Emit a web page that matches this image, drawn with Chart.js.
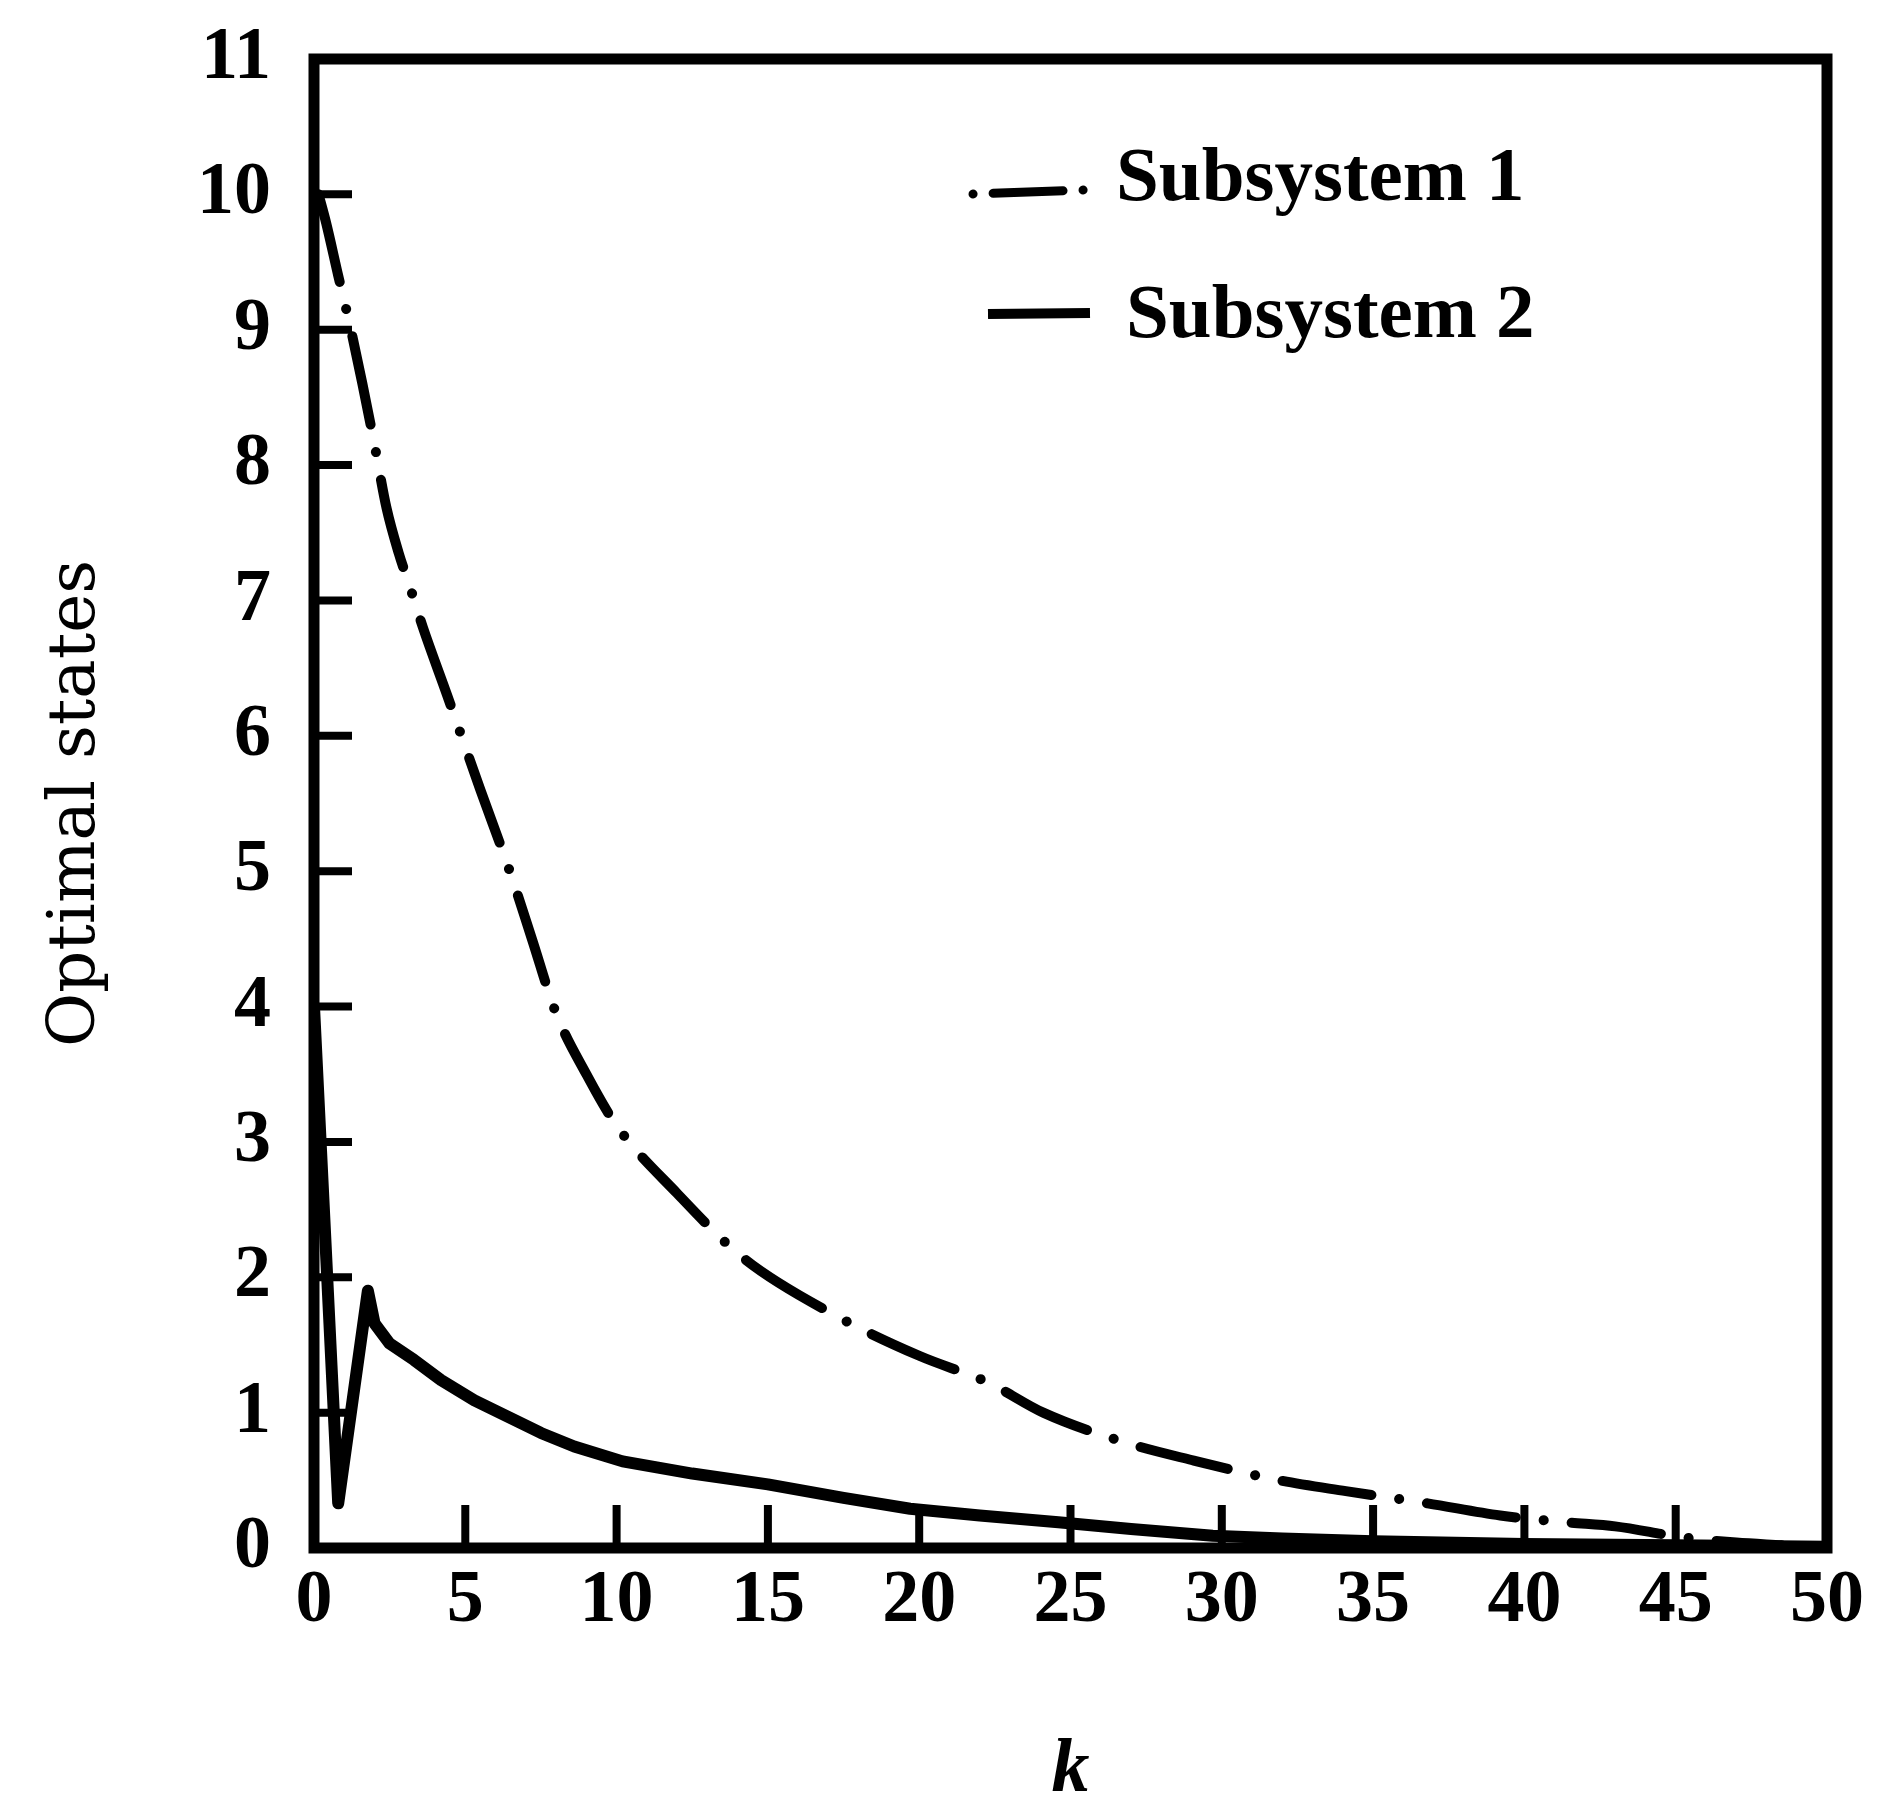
<!DOCTYPE html>
<html>
<head>
<meta charset="utf-8">
<script src="https://cdn.jsdelivr.net/npm/chart.js@4.4.1/dist/chart.umd.min.js"></script>
<style>
  html, body { margin: 0; padding: 0; background: #fff; }
  canvas { display: block; }
</style>
</head>
<body>
<canvas id="states" width="1878" height="1797"></canvas>
<script>
// subsystem 1 (dash-dot curve)
const subsystem1K = [0.15, 0.4, 0.8, 1.2, 1.6, 2.0, 2.4, 2.8, 3.2, 3.6, 4.4, 5.5, 6.5, 7.2, 8, 9, 10, 12, 14.2, 17.3, 20, 22.3, 24.1, 26.8, 29, 31.9, 34.1, 36.8, 39.2, 41.4, 43, 45.2, 47, 48.5]
const subsystem1States = [10.0, 9.79, 9.4, 9.02, 8.6, 8.15, 7.68, 7.35, 7.08, 6.8, 6.3, 5.6, 4.98, 4.5, 3.95, 3.5, 3.12, 2.62, 2.14, 1.71, 1.42, 1.22, 1.0, 0.78, 0.65, 0.5, 0.42, 0.33, 0.24, 0.19, 0.16, 0.08, 0.04, 0.02]

// subsystem 2 (solid curve)
const subsystem2K = [0, 0.8, 1.78, 2.0, 2.5, 3.3, 4.2, 5.3, 6.4, 7.5, 8.6, 10.2, 12.5, 15, 17.5, 19.7, 22, 24.6, 27, 29.7, 32, 35, 40, 45, 50]
const subsystem2States = [4.0, 0.33, 1.9, 1.66, 1.51, 1.39, 1.24, 1.09, 0.97, 0.85, 0.75, 0.64, 0.55, 0.47, 0.37, 0.29, 0.24, 0.19, 0.14, 0.09, 0.07, 0.05, 0.03, 0.02, 0.01]

const kTicks = [0, 5, 10, 15, 20, 25, 30, 35, 40, 45, 50]
const stateTicks = [0, 1, 2, 3, 4, 5, 6, 7, 8, 9, 10, 11]

const toPoints = (ks, vs) => ks.map((k, i) => ({ x: k, y: vs[i] }))

const tickFont = { family: 'Liberation Serif', size: 74, weight: 'bold' }

// box round the plot, plus the short inward tick marks
const framePlugin = {
  id: 'frame',
  afterDraw(chart) {
    const { ctx, chartArea: a, scales } = chart
    const x = scales.x, y = scales.y
    ctx.save()
    ctx.strokeStyle = '#000'
    ctx.lineWidth = 8
    ctx.beginPath()
    y.ticks.forEach(t => {
      if (t.value <= y.min || t.value >= y.max) return
      const py = y.getPixelForValue(t.value)
      ctx.moveTo(a.left, py)
      ctx.lineTo(a.left + 38, py)
    })
    x.ticks.forEach(t => {
      if (t.value <= x.min || t.value >= x.max) return
      const px = x.getPixelForValue(t.value)
      ctx.moveTo(px, a.bottom)
      ctx.lineTo(px, a.bottom - 43)
    })
    ctx.stroke()
    ctx.lineWidth = 11
    ctx.strokeRect(a.left, a.top, a.right - a.left, a.bottom - a.top)
    ctx.restore()
  }
}

// legend sitting inside the plot, upper right
const legendPlugin = {
  id: 'inlineLegend',
  afterDraw(chart) {
    const { ctx } = chart
    const sets = chart.data.datasets
    ctx.save()
    ctx.strokeStyle = '#000'
    ctx.fillStyle = '#000'

    ctx.lineCap = 'round'
    ctx.lineWidth = 9
    ctx.setLineDash([0.1, 20, 70, 20])
    ctx.beginPath()
    ctx.moveTo(973, 194)
    ctx.lineTo(1084, 190)
    ctx.stroke()

    ctx.setLineDash([])
    ctx.lineCap = 'butt'
    ctx.lineWidth = 10
    ctx.beginPath()
    ctx.moveTo(988, 314)
    ctx.lineTo(1090, 313)
    ctx.stroke()

    ctx.font = 'bold 77px "Liberation Serif"'
    ctx.textBaseline = 'middle'
    ctx.textAlign = 'left'
    ctx.fillText(sets[0].label, 1116, 180)
    ctx.fillText(sets[1].label, 1126, 317)
    ctx.restore()
  }
}

new Chart(document.getElementById('states'), {
  type: 'line',
  data: {
    datasets: [
      {
        label: 'Subsystem 1',
        data: toPoints(subsystem1K, subsystem1States),
        borderColor: '#000',
        borderWidth: 10,
        borderDash: [90, 28, 0.1, 28],
        borderCapStyle: 'round',
        pointRadius: 0,
        cubicInterpolationMode: 'monotone',
        fill: false
      },
      {
        label: 'Subsystem 2',
        data: toPoints(subsystem2K, subsystem2States),
        borderColor: '#000',
        borderWidth: 12,
        borderJoinStyle: 'round',
        pointRadius: 0,
        tension: 0,
        fill: false
      }
    ]
  },
  options: {
    responsive: false,
    devicePixelRatio: 1,
    animation: false,
    layout: { padding: { top: 59, right: 51, left: 0, bottom: 0 } },
    plugins: {
      legend: { display: false },
      tooltip: { enabled: false }
    },
    scales: {
      x: {
        type: 'linear',
        min: 0,
        max: 50,
        afterBuildTicks: s => { s.ticks = kTicks.map(v => ({ value: v })) },
        afterFit: s => {
          s.height = 249
          s.paddingLeft = 0
          s.paddingRight = 0
        },
        grid: { display: false, drawTicks: false },
        border: { display: false },
        ticks: { color: '#000', padding: 9, font: tickFont, maxRotation: 0, autoSkip: false },
        title: {
          display: true,
          text: 'k',
          color: '#000',
          font: { family: 'Liberation Serif', size: 76, style: 'italic', weight: 'bold', lineHeight: 1 },
          padding: { top: 0, bottom: -12 }
        }
      },
      y: {
        type: 'linear',
        min: 0,
        max: 11,
        afterBuildTicks: s => { s.ticks = stateTicks.map(v => ({ value: v })) },
        afterFit: s => {
          s.width = 314
          s.paddingTop = 0
          s.paddingBottom = 0
        },
        grid: { display: false, drawTicks: false },
        border: { display: false },
        ticks: { color: '#000', padding: 43, font: tickFont, autoSkip: false },
        title: {
          display: true,
          text: 'Optimal states',
          color: '#000',
          font: { family: 'DejaVu Serif', size: 66, lineHeight: 1 },
          padding: { top: 44, bottom: 0 }
        }
      }
    }
  },
  plugins: [framePlugin, legendPlugin]
})
</script>
</body>
</html>
